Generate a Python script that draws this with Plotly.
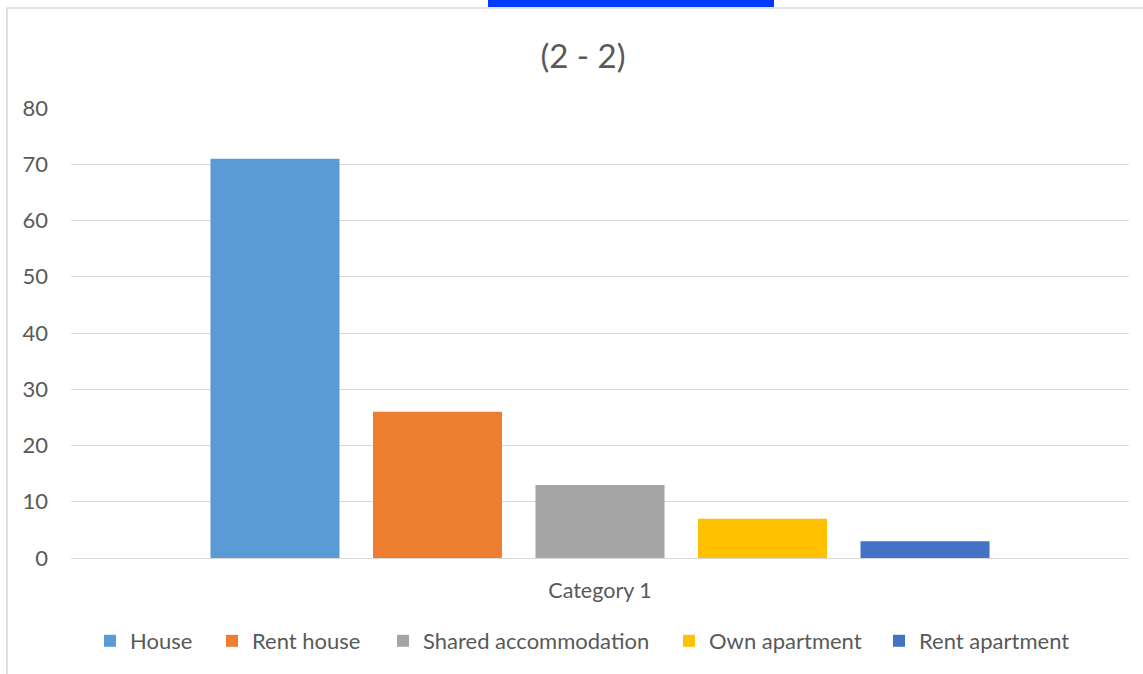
import plotly.graph_objects as go

categories = ["Category 1"]
series_names = ["House", "Rent house", "Shared accommodation", "Own apartment", "Rent apartment"]
series_values = [71, 26, 13, 7, 3]
series_colors = ["#5B9BD5", "#ED7D31", "#A5A5A5", "#FFC000", "#4472C4"]
y_ticks = [0, 10, 20, 30, 40, 50, 60, 70, 80]
title_text = "(2 - 2)"

W, H = 1143, 674
L, R, T, B = 71, 14, 108, 116
plot_w = W - L - R
plot_h = H - T - B

FONT = "Lato, Carlito, 'Liberation Sans', sans-serif"
TXT = "#595959"
GRID = "#D9D9D9"

def px_x(px):
    return (px - L) / plot_w

def px_y(py):
    return (H - B - py) / plot_h

# legend entry left positions (pixels) matching the reference layout
legend_left_px = [106, 228, 399, 685, 895]
legend_ids = ["legend", "legend2", "legend3", "legend4", "legend5"]

fig = go.Figure()
for name, val, col, lid in zip(series_names, series_values, series_colors, legend_ids):
    fig.add_trace(go.Bar(x=categories, y=[val], name=name, legend=lid,
                         marker=dict(color=col, line=dict(width=0))))

legend_layout = {}
for lid, lx in zip(legend_ids, legend_left_px):
    legend_layout[lid] = dict(orientation="h", x=px_x(lx - 16), xanchor="left", y=px_y(641), yanchor="middle",
                              font=dict(size=22, color=TXT, family=FONT), itemwidth=30,
                              bgcolor="rgba(0,0,0,0)")

fig.update_layout(
    width=W, height=H,
    margin=dict(l=L, r=R, t=T, b=B),
    paper_bgcolor="white", plot_bgcolor="white",
    barmode="group", bargap=0.232, bargroupgap=0.206,
    font=dict(family=FONT, color=TXT, size=22),
    title=dict(text=title_text, x=583 / W, xanchor="center", y=1 - 56 / H, yanchor="middle",
               xref="container", yref="container", font=dict(size=33, color=TXT, family=FONT)),
    showlegend=True,
    xaxis=dict(showgrid=False, showline=False, zeroline=False, ticks="", ticklabelstandoff=17,
               tickfont=dict(size=21.5, color=TXT), fixedrange=True),
    yaxis=dict(range=[0, 80], tickvals=y_ticks, showgrid=True, gridcolor=GRID, gridwidth=1.3,
               zeroline=True, zerolinecolor=GRID, zerolinewidth=1.3, showline=False, ticks="",
               ticklabelstandoff=22, tickfont=dict(size=22, color=TXT), fixedrange=True),
    shapes=[
        dict(type="rect", xref="paper", yref="paper", x0=px_x(7), x1=px_x(W + 10), y0=px_y(H + 10), y1=px_y(8),
             line=dict(color=GRID, width=1.6), fillcolor="rgba(0,0,0,0)", layer="below"),
        dict(type="rect", xref="paper", yref="paper", x0=px_x(488), x1=px_x(774), y0=px_y(7), y1=px_y(-2),
             line=dict(width=0), fillcolor="#0039FF"),
    ],
    **legend_layout,
)

fig.write_html("out.html", config={"displayModeBar": False},
               post_script="document.body.style.margin='0';document.body.style.padding='0';")
